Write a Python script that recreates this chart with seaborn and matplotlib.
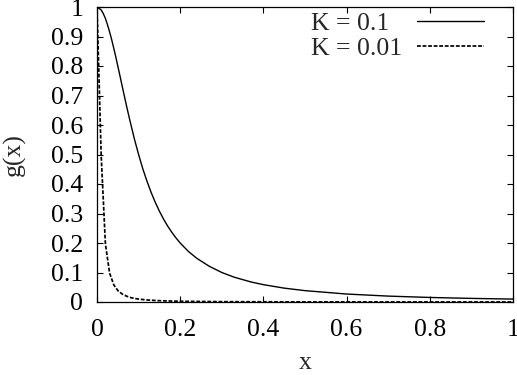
import matplotlib
matplotlib.use("Agg")
import matplotlib.pyplot as plt
import seaborn as sns
import pandas as pd

# values
x_k1 = [0.0, 0.01, 0.015, 0.02, 0.025, 0.03, 0.035, 0.04, 0.045, 0.05, 0.055,
        0.06, 0.065, 0.07, 0.075, 0.08, 0.085, 0.09, 0.095, 0.10,
        0.11, 0.12, 0.13, 0.14, 0.15, 0.16, 0.17, 0.18, 0.19, 0.20,
        0.22, 0.24, 0.27, 0.30, 0.33, 0.37, 0.40, 0.45, 0.50,
        0.60, 0.70, 0.80, 0.90, 1.00]
g_k1 = [1.0, 0.990, 0.978, 0.962, 0.941, 0.917, 0.891, 0.862, 0.832, 0.800, 0.768,
        0.735, 0.703, 0.671, 0.640, 0.610, 0.581, 0.552, 0.526, 0.500,
        0.452, 0.410, 0.372, 0.338, 0.308, 0.281, 0.257, 0.236, 0.217, 0.200,
        0.171, 0.148, 0.121, 0.100, 0.084, 0.068, 0.0588, 0.047, 0.0385,
        0.027, 0.020, 0.0154, 0.0122, 0.0099]

x_k2 = [0.0, 0.0101, 0.0202, 0.0303, 0.0404, 0.0505, 0.0606, 0.0707, 0.0808,
        0.0909, 0.101, 0.121, 0.152, 0.202, 0.303, 0.505, 0.707, 1.0]
g_k2 = [1.0, 0.495, 0.197, 0.098, 0.058, 0.038, 0.027, 0.020, 0.015,
        0.012, 0.0097, 0.0068, 0.0043, 0.0024, 0.0011, 0.0004, 0.0002, 0.0001]

labels = ["K = 0.1", "K = 0.01"]

df = pd.concat([
    pd.DataFrame({"x": x_k1, "g": g_k1, "K": labels[0]}),
    pd.DataFrame({"x": x_k2, "g": g_k2, "K": labels[1]}),
])

sns.set_theme(style="ticks")
plt.rcParams["font.family"] = ["Liberation Serif", "DejaVu Serif"]

FS = 18.5

fig = plt.figure(figsize=(5.17, 3.75), dpi=100)
ax = fig.add_axes([97/517, 1 - 302/375, (513-97)/517, (302-7)/375])

sns.lineplot(data=df, x="x", y="g", hue="K", style="K",
             palette=["black", "black"],
             dashes={labels[0]: "", labels[1]: (2.2, 1.0)},
             linewidth=1.0, ax=ax, legend=True, sort=False,
             estimator=None)
ax.lines[1].set_linewidth(1.25)

ax.set_xlim(0, 1)
ax.set_ylim(0, 1)
ax.set_xticks([0, 0.2, 0.4, 0.6, 0.8, 1])
ax.set_xticklabels(["0", "0.2", "0.4", "0.6", "0.8", "1"])
ax.set_yticks([0, 0.1, 0.2, 0.3, 0.4, 0.5, 0.6, 0.7, 0.8, 0.9, 1])
ax.set_yticklabels(["0", "0.1", "0.2", "0.3", "0.4", "0.5", "0.6", "0.7", "0.8", "0.9", "1"])
ax.tick_params(direction="in", length=4, width=0.8, top=True, right=True,
               labelsize=FS, colors="black")
ax.tick_params(axis="x", pad=12)
ax.tick_params(axis="y", pad=10)
for s in ax.spines.values():
    s.set_visible(True)
    s.set_color("black")
    s.set_linewidth(0.9)

ax.set_xlabel("x", fontsize=FS, labelpad=8)
ax.set_ylabel("g(x)", fontsize=FS, labelpad=18)

handles, labs = ax.get_legend_handles_labels()
# pad the shorter label with a figure space so both texts start at the same x
labs = [lab + "\u2007" if lab == labels[0] else lab for lab in labs]
leg = ax.legend(handles, labs, loc="upper right", frameon=False,
                markerfirst=False, fontsize=FS, handlelength=2.6,
                handletextpad=0.6, labelspacing=0.08, borderpad=0,
                borderaxespad=0,
                bbox_to_anchor=(484/517, 1 - 12/375), bbox_transform=fig.transFigure)
leg.get_lines()[0].set_linewidth(1.0)
leg.get_lines()[1].set_linewidth(1.25)

fig.savefig("out.png", dpi=100)
